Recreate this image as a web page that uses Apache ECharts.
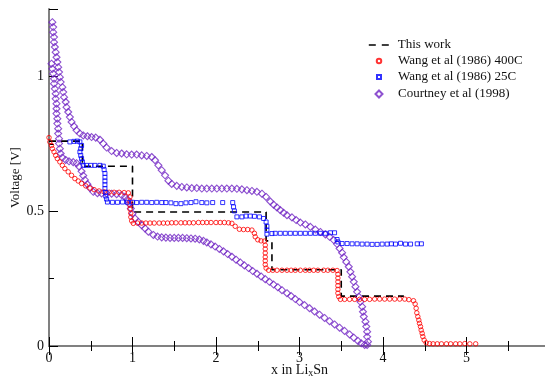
<!DOCTYPE html>
<html>
<head>
<meta charset="utf-8">
<script src="https://cdn.jsdelivr.net/npm/echarts@6/dist/echarts.min.js"></script>
<style>html,body{margin:0;padding:0;background:#fff}#c{width:545px;height:377px}</style>
</head>
<body>
<div id="c"></div>
<script>
var seriesNames = ['This work', 'Wang et al (1986) 400C', 'Wang et al (1986) 25C', 'Courtney et al (1998)'];
var xTicks = [0, 1, 2, 3, 4, 5];
var yTicks = [0, 0.5, 1];

var thisWork = [[0,0.76],[0.40,0.76],[0.40,0.667],[1.0,0.667],[1.0,0.497],[2.60,0.497],[2.60,0.39],[2.67,0.39],[2.67,0.283],[3.50,0.283],[3.50,0.185],[4.25,0.185]];

var wang400C = [
[0.00,0.773],[0.01,0.757],[0.03,0.744],[0.04,0.732],[0.06,0.720],[0.08,0.707],[0.10,0.695],[0.13,0.683],[0.16,0.670],[0.19,0.658],[0.23,0.646],[0.27,0.633],[0.31,0.621],[0.35,0.612],[0.39,0.603],[0.44,0.594],[0.49,0.586],[0.54,0.580],[0.60,0.575],[0.66,0.572],[0.72,0.570],[0.78,0.570],[0.84,0.570],[0.90,0.569],[0.95,0.568],
[0.97,0.553],[0.97,0.538],[0.97,0.523],[0.97,0.508],[0.98,0.493],[0.98,0.478],[0.99,0.464],[1.01,0.455],
[1.06,0.456],[1.11,0.456],[1.16,0.456],[1.21,0.456],[1.26,0.456],[1.32,0.456],[1.37,0.456],[1.42,0.456],[1.47,0.457],[1.52,0.457],[1.58,0.457],[1.63,0.457],[1.68,0.457],[1.73,0.457],[1.79,0.458],[1.84,0.458],[1.89,0.458],[1.94,0.458],[2.00,0.458],[2.05,0.458],[2.10,0.458],[2.15,0.457],[2.19,0.455],
[2.23,0.444],[2.28,0.433],[2.33,0.432],[2.38,0.432],[2.43,0.430],[2.46,0.418],[2.47,0.405],[2.50,0.394],[2.54,0.390],[2.58,0.389],
[2.59,0.374],[2.59,0.360],[2.59,0.345],[2.59,0.330],[2.59,0.316],[2.59,0.302],[2.60,0.289],
[2.63,0.281],[2.68,0.281],[2.73,0.281],[2.79,0.281],[2.85,0.281],[2.90,0.281],[2.95,0.281],[3.01,0.281],[3.07,0.281],[3.12,0.281],[3.17,0.281],[3.22,0.281],[3.29,0.281],[3.34,0.281],[3.40,0.281],[3.45,0.280],
[3.46,0.266],[3.46,0.252],[3.46,0.238],[3.46,0.224],[3.46,0.210],[3.46,0.196],[3.47,0.183],
[3.49,0.173],[3.54,0.173],[3.60,0.173],[3.66,0.173],[3.72,0.173],[3.78,0.173],[3.84,0.173],[3.90,0.174],[3.96,0.174],[4.02,0.174],[4.08,0.174],[4.14,0.174],[4.20,0.174],[4.26,0.174],[4.31,0.172],
[4.365,0.168],[4.385,0.156],[4.397,0.140],[4.405,0.123],[4.417,0.109],[4.429,0.096],[4.437,0.084],[4.449,0.072],[4.457,0.059],[4.469,0.047],[4.477,0.035],[4.493,0.022],[4.517,0.012],[4.557,0.009],
[4.60,0.008],[4.65,0.008],[4.70,0.008],[4.76,0.008],[4.81,0.008],[4.87,0.008],[4.92,0.008],[4.98,0.009],[5.04,0.008],[5.11,0.008]
];

var wang25C = [
[0.25,0.757],[0.30,0.759],[0.34,0.760],[0.37,0.757],[0.39,0.744],[0.38,0.732],[0.37,0.720],[0.38,0.707],[0.39,0.695],[0.40,0.683],[0.41,0.670],[0.45,0.670],[0.50,0.670],[0.55,0.670],[0.61,0.670],[0.65,0.667],[0.66,0.654],[0.67,0.640],[0.67,0.626],[0.67,0.612],[0.67,0.598],[0.67,0.584],[0.68,0.570],[0.68,0.556],[0.69,0.545],[0.70,0.534],
[0.76,0.533],[0.82,0.533],[0.88,0.534],[0.94,0.533],[1.00,0.533],[1.05,0.532],[1.11,0.533],[1.17,0.533],[1.23,0.532],[1.29,0.533],[1.35,0.532],[1.40,0.532],[1.46,0.531],[1.52,0.528],[1.58,0.528],[1.64,0.531],[1.70,0.532],[1.76,0.535],[1.83,0.532],[1.89,0.531],[1.96,0.532],[2.08,0.532],[2.20,0.532],[2.21,0.516],[2.22,0.501],[2.25,0.479],[2.31,0.479],[2.36,0.482],[2.41,0.482],[2.46,0.481],[2.52,0.479],[2.57,0.473],[2.60,0.460],[2.61,0.444],[2.61,0.430],[2.61,0.415],
[2.67,0.417],[2.71,0.418],[2.77,0.418],[2.83,0.418],[2.89,0.418],[2.95,0.418],[3.01,0.418],[3.07,0.418],[3.13,0.418],[3.19,0.418],[3.25,0.418],[3.31,0.418],[3.37,0.420],[3.42,0.420],[3.45,0.395],[3.46,0.386],
[3.51,0.380],[3.57,0.380],[3.63,0.379],[3.69,0.379],[3.75,0.378],[3.81,0.378],[3.87,0.377],[3.93,0.377],[3.99,0.378],[4.05,0.378],[4.10,0.379],[4.15,0.378],[4.21,0.381],[4.27,0.378],[4.33,0.378],[4.41,0.379],[4.46,0.379]
];

var courtneyUpper = [
[0.04,1.201],[0.05,1.183],[0.05,1.164],[0.06,1.146],[0.06,1.127],[0.07,1.109],[0.08,1.090],[0.09,1.071],[0.10,1.053],[0.11,1.034],[0.12,1.016],[0.13,0.997],[0.14,0.979],[0.16,0.960],[0.17,0.942],[0.18,0.923],[0.20,0.905],[0.21,0.886],[0.23,0.868],[0.25,0.849],[0.27,0.831],[0.30,0.815],[0.33,0.800],[0.37,0.788],[0.41,0.781],[0.46,0.778],[0.51,0.775],[0.56,0.773],[0.61,0.765],[0.65,0.751],[0.69,0.736],[0.75,0.723],[0.81,0.716],[0.87,0.714],[0.93,0.711],[0.99,0.710],[1.05,0.710],[1.11,0.707],[1.17,0.705],[1.23,0.701],[1.27,0.689],[1.31,0.670],[1.35,0.652],[1.39,0.633],[1.43,0.613],[1.47,0.601],[1.53,0.594],[1.59,0.590],[1.65,0.588],[1.71,0.586],[1.77,0.586],[1.83,0.584],[1.89,0.584],[1.95,0.584],[2.01,0.584],[2.07,0.584],[2.13,0.584],[2.19,0.584],[2.25,0.583],[2.31,0.581],[2.37,0.578],[2.43,0.575],[2.49,0.572],[2.55,0.565],[2.60,0.553],[2.65,0.536],[2.69,0.524],[2.73,0.514],[2.77,0.504],[2.81,0.494],[2.85,0.485],[2.91,0.477],[2.96,0.467],[3.01,0.458],[3.07,0.451],[3.13,0.442],[3.19,0.432],[3.25,0.423],[3.31,0.414],[3.36,0.405],[3.41,0.393],[3.45,0.378],[3.48,0.362],[3.51,0.346],[3.53,0.329],[3.56,0.312],[3.59,0.294],[3.61,0.275],[3.63,0.257],[3.65,0.238],[3.67,0.220],[3.69,0.201],[3.71,0.183],[3.73,0.164],[3.75,0.146],[3.76,0.127],[3.77,0.109],[3.79,0.090],[3.80,0.072],[3.81,0.053],[3.81,0.034],[3.82,0.016],[3.81,0.004]
];

var courtneyLower = [
[0.03,1.047],[0.04,1.028],[0.05,1.010],[0.06,0.991],[0.06,0.973],[0.07,0.954],[0.08,0.936],[0.08,0.917],[0.09,0.899],[0.09,0.880],[0.09,0.862],[0.10,0.843],[0.10,0.825],[0.11,0.806],[0.11,0.788],[0.12,0.769],[0.12,0.751],[0.13,0.732],[0.14,0.714],[0.16,0.699],[0.20,0.690],[0.24,0.685],[0.29,0.682],[0.33,0.678],[0.36,0.666],[0.39,0.648],[0.41,0.632],[0.43,0.616],[0.46,0.600],[0.49,0.586],[0.53,0.572],[0.58,0.567],[0.63,0.566],[0.69,0.566],[0.75,0.565],[0.81,0.563],[0.87,0.560],[0.91,0.553],[0.94,0.543],[0.96,0.528],[0.98,0.510],[1.00,0.491],[1.03,0.473],[1.07,0.460],[1.11,0.448],[1.15,0.436],[1.19,0.424],[1.25,0.412],[1.30,0.406],[1.35,0.403],[1.40,0.402],[1.45,0.401],[1.50,0.401],[1.55,0.401],[1.60,0.401],[1.65,0.400],[1.70,0.399],[1.75,0.398],[1.80,0.395],[1.85,0.390],[1.89,0.384],[1.94,0.377],[1.99,0.369],[2.04,0.360],[2.09,0.351],[2.14,0.341],[2.19,0.331],[2.24,0.320],[2.29,0.310],[2.34,0.299],[2.39,0.289],[2.44,0.278],[2.49,0.268],[2.54,0.258],[2.59,0.248],[2.64,0.238],[2.69,0.228],[2.74,0.218],[2.79,0.207],[2.85,0.196],[2.90,0.185],[2.95,0.174],[3.00,0.163],[3.06,0.152],[3.12,0.140],[3.18,0.128],[3.24,0.116],[3.30,0.104],[3.36,0.092],[3.42,0.080],[3.48,0.068],[3.54,0.056],[3.60,0.043],[3.65,0.031],[3.70,0.019],[3.74,0.010],[3.78,0.004]
];

var FONT = 'Liberation Serif';
var RED = '#ff0000', BLUE = '#0000ff', PURPLE = '#7226c4';
var chart = echarts.init(document.getElementById('c'), null, {renderer: 'canvas'});

// legend: icon centre x = 373, text starts at x = 392
function legendAt(name, top, w, h, extra) {
  var left = 373 - w / 2;
  var pad = 392 - (left + w + 5);
  var l = {
    data: [name], orient: 'vertical', left: left, top: top,
    itemWidth: w, itemHeight: h, selectedMode: false,
    textStyle: {fontFamily: FONT, fontSize: 13, color: '#111', lineHeight: 14, padding: [0, 0, 0, pad]}
  };
  if (extra) { for (var k in extra) l[k] = extra[k]; }
  return l;
}

var axisLineStyle = {show: true, lineStyle: {color: '#808080', width: 2}};
var option = {
  animation: false,
  backgroundColor: '#fff',
  grid: {left: 49, right: -5, top: 9, bottom: 31, containLabel: false, outerBoundsMode: 'none'},
  legend: [
    legendAt(seriesNames[0], 33, 20, 8, {
      itemStyle: {color: 'rgba(0,0,0,0)', borderWidth: 0, opacity: 0},
      lineStyle: {color: '#000', width: 1.6, type: [7, 6], opacity: 1}
    }),
    legendAt(seriesNames[1], 49, 4.5, 4.5),
    legendAt(seriesNames[2], 65, 4, 4),
    legendAt(seriesNames[3], 82, 7, 7)
  ],
  xAxis: [{
    type: 'value', min: 0, max: 6, interval: 1, position: 'bottom',
    axisLine: axisLineStyle,
    axisTick: {show: true, inside: true, length: 9, lineStyle: {color: '#000', width: 1}},
    minorTick: {show: true, splitNumber: 2, length: 5, lineStyle: {color: '#000', width: 1}},
    splitLine: {show: false}, minorSplitLine: {show: false},
    axisLabel: {fontFamily: FONT, fontSize: 14, color: '#111', margin: 5,
      formatter: function (v) { return xTicks.indexOf(v) >= 0 ? String(v) : ''; }},
    name: '{a|x in Li}{s|x}{a|Sn}', nameLocation: 'middle', nameGap: 16, nameMoveOverlap: false,
    nameTextStyle: {rich: {
      a: {fontFamily: FONT, fontSize: 14, color: '#111'},
      s: {fontFamily: FONT, fontSize: 10, color: '#111', padding: [6, 0, 0, 0]}
    }}
  }, {
    type: 'value', min: 0, max: 6, interval: 1, position: 'top',
    axisLine: axisLineStyle,
    axisTick: {show: true, inside: true, length: 9, lineStyle: {color: '#000', width: 1}},
    minorTick: {show: true, splitNumber: 2, length: 5, lineStyle: {color: '#000', width: 1}},
    splitLine: {show: false}, axisLabel: {show: false}
  }],
  yAxis: [{
    type: 'value', min: 0, max: 1.25, interval: 0.5, position: 'left',
    axisLine: axisLineStyle,
    axisTick: {show: true, inside: true, length: 9, lineStyle: {color: '#000', width: 1}},
    splitLine: {show: false},
    axisLabel: {fontFamily: FONT, fontSize: 14, color: '#111', margin: 5,
      formatter: function (v) { return yTicks.indexOf(v) >= 0 ? String(v) : ''; }},
    name: 'Voltage [V]', nameLocation: 'middle', nameGap: 27, nameMoveOverlap: false,
    nameTextStyle: {fontFamily: FONT, fontSize: 13, color: '#111'}
  }, {
    type: 'value', min: 0, max: 1.25, interval: 0.25, position: 'left',
    axisLine: {show: false},
    axisTick: {show: true, inside: true, length: 5, lineStyle: {color: '#000', width: 1}},
    splitLine: {show: false}, axisLabel: {show: false}
  }],
  series: [
    {name: seriesNames[0], type: 'line', data: thisWork, symbol: 'none', xAxisIndex: 0, yAxisIndex: 0,
      lineStyle: {color: '#000', width: 1.6, type: [7, 5]}, itemStyle: {color: 'rgba(0,0,0,0)'}, z: 1},
    {name: seriesNames[1], type: 'scatter', data: wang400C, symbol: 'circle', symbolSize: 4.5,
      itemStyle: {color: 'rgba(0,0,0,0)', borderColor: RED, borderWidth: 1}, z: 3},
    {name: seriesNames[2], type: 'scatter', data: wang25C, symbol: 'rect', symbolSize: 4,
      itemStyle: {color: 'rgba(0,0,0,0)', borderColor: BLUE, borderWidth: 1}, z: 3},
    {name: seriesNames[3], type: 'scatter', data: courtneyUpper.concat(courtneyLower), symbol: 'diamond', symbolSize: 7,
      itemStyle: {color: 'rgba(0,0,0,0)', borderColor: PURPLE, borderWidth: 1.1}, z: 2}
  ]
};
chart.setOption(option);
</script>
</body>
</html>
